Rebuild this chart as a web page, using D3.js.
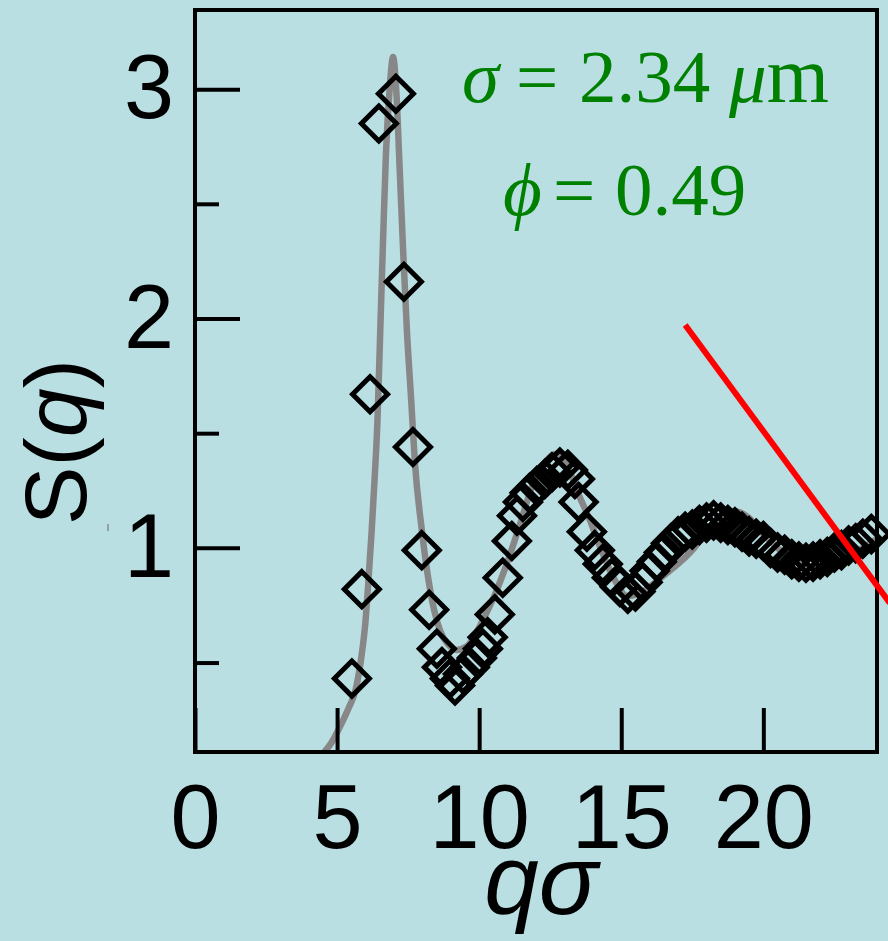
<!DOCTYPE html>
<html>
<head>
<meta charset="utf-8">
<script src="https://cdn.jsdelivr.net/npm/d3@7"></script>
<style>
  html, body { margin: 0; padding: 0; background: #badfe3; }
  svg { display: block; }
</style>
</head>
<body>
<svg id="chart" width="888" height="941"></svg>
<script>
// measured points (open diamonds)
const pointQ = [5.52, 5.87, 6.16, 6.47, 7.07, 7.35, 7.67, 7.98, 8.24, 8.51,
  8.69, 8.97, 9.15, 9.43, 9.67, 9.92, 10.13, 10.30, 10.55, 10.83,
  11.15, 11.33, 11.54, 11.78, 12.03, 12.31, 12.56, 12.84, 13.12, 13.37,
  13.50, 13.79, 14.07, 14.35, 14.67, 14.95, 15.23, 15.50, 15.75, 16.00,
  16.25, 16.50, 16.75, 17.00, 17.25, 17.50, 17.75, 18.00, 18.25, 18.50,
  18.75, 19.00, 19.25, 19.50, 19.75, 20.00, 20.25, 20.50, 20.75, 21.00,
  21.25, 21.50, 21.75, 22.00, 22.25, 22.50, 22.75, 23.00, 23.25, 23.50, 23.80];
const pointS = [0.43, 0.82, 1.67, 2.85, 2.98, 2.16, 1.44, 0.99, 0.73, 0.56,
  0.48, 0.43, 0.40, 0.45, 0.48, 0.52, 0.56, 0.61, 0.71, 0.87,
  1.03, 1.14, 1.20, 1.24, 1.27, 1.30, 1.33, 1.35, 1.34, 1.30,
  1.20, 1.07, 0.99, 0.93, 0.87, 0.83, 0.80, 0.81, 0.85, 0.90,
  0.94, 0.98, 1.02, 1.05, 1.07, 1.08, 1.10, 1.11, 1.12, 1.11,
  1.10, 1.09, 1.07, 1.05, 1.04, 1.03, 1.00, 0.98, 0.97, 0.95,
  0.94, 0.935, 0.94, 0.95, 0.96, 0.98, 0.99, 1.01, 1.02, 1.04, 1.06];

// theory curve (grey)
const curveQ = [4.40, 4.8, 5.1, 5.4, 5.65, 5.85, 6.0, 6.1, 6.22, 6.32, 6.42, 6.52,
  6.62, 6.72, 6.85, 6.97, 7.08, 7.21, 7.33, 7.46, 7.6, 7.74, 7.98, 8.27, 8.62,
  8.9, 9.2, 9.56, 9.9, 10.27, 10.6, 10.97, 11.43, 11.9, 12.3, 12.73, 13.1, 13.44,
  13.9, 14.3, 14.77, 15.2, 15.6, 16.0, 16.5, 17.0, 17.5, 18.0, 18.5, 19.0, 19.5,
  20.0, 20.5, 21.0, 21.5, 22.0, 22.5, 23.0, 23.5, 24.0];
const curveS = [0.09, 0.15, 0.22, 0.30, 0.38, 0.52, 0.68, 0.85, 1.08, 1.30, 1.55, 1.95,
  2.35, 2.72, 3.00, 3.14, 3.00, 2.63, 2.28, 1.94, 1.66, 1.37, 1.08, 0.82, 0.64,
  0.58, 0.555, 0.57, 0.63, 0.72, 0.81, 0.93, 1.10, 1.28, 1.37, 1.41, 1.36, 1.25,
  1.12, 0.99, 0.86, 0.79, 0.80, 0.83, 0.88, 0.93, 0.99, 1.07, 1.13, 1.16, 1.13,
  1.06, 1.00, 0.95, 0.92, 0.91, 0.93, 0.96, 1.00, 1.04];

const xTicks = [0, 5, 10, 15, 20];
const yTicks = [1, 2, 3];
const yMinorTicks = [0.5, 1.5, 2.5];

// red guide line drawn over the plot
const guideQ = [17.25, 24.45];
const guideS = [1.972, 0.76];

const svg = d3.select("#chart");
const box = {left: 195, right: 877, top: 10, bottom: 752};

const x = d3.scaleLinear().domain([0, 24]).range([box.left, box.right]);
const y = d3.scaleLinear().domain([0.11, 3.345]).range([box.bottom, box.top]);

svg.append("defs").append("clipPath").attr("id", "plotclip")
  .append("rect")
  .attr("x", box.left).attr("y", box.top)
  .attr("width", box.right - box.left).attr("height", box.bottom - box.top);

// theory curve
const line = d3.line().x((d, i) => x(curveQ[i])).y((d, i) => y(curveS[i])).curve(d3.curveMonotoneX);
svg.append("path")
  .attr("clip-path", "url(#plotclip)")
  .attr("d", line(curveQ))
  .attr("fill", "none")
  .attr("stroke", "#878787")
  .attr("stroke-width", 6.5);

// diamonds
const r = 17.5;
svg.append("g").selectAll("path")
  .data(pointQ)
  .join("path")
  .attr("transform", (d, i) => `translate(${x(d)},${y(pointS[i])})`)
  .attr("d", `M0,${-r}L${r},0L0,${r}L${-r},0Z`)
  .attr("fill", "none")
  .attr("stroke", "#000")
  .attr("stroke-width", 5)
  .attr("stroke-linejoin", "miter");

// axes, ticks point inward
const fontAxis = "'Liberation Sans', Arial, Helvetica, sans-serif";

svg.append("g")
  .attr("class", "xaxis")
  .attr("transform", `translate(0,${box.bottom})`)
  .call(d3.axisBottom(x).tickValues(xTicks).tickFormat(d3.format("d"))
    .tickSize(-44).tickPadding(32));

svg.append("g")
  .attr("class", "yaxis")
  .attr("transform", `translate(${box.left},0)`)
  .call(d3.axisLeft(y).tickValues(yTicks).tickFormat(d3.format("d"))
    .tickSize(-45).tickPadding(21));

svg.append("g")
  .attr("transform", `translate(${box.left},0)`)
  .call(d3.axisLeft(y).tickValues(yMinorTicks).tickFormat("").tickSize(-24));

svg.selectAll(".domain").remove();
svg.selectAll(".tick line").attr("stroke", "#000").attr("stroke-width", 4);
svg.selectAll(".tick text")
  .attr("fill", "#000")
  .style("font-family", fontAxis)
  .style("font-size", "90px");

// frame
svg.append("rect")
  .attr("x", box.left).attr("y", box.top)
  .attr("width", box.right - box.left).attr("height", box.bottom - box.top)
  .attr("fill", "none")
  .attr("stroke", "#000")
  .attr("stroke-width", 4);

// red guide line
svg.append("line")
  .attr("x1", x(guideQ[0])).attr("y1", y(guideS[0]))
  .attr("x2", x(guideQ[1])).attr("y2", y(guideS[1]))
  .attr("stroke", "#ff0000")
  .attr("stroke-width", 6);

// axis titles
svg.append("text")
  .attr("x", 541).attr("y", 914)
  .attr("text-anchor", "middle")
  .style("font-family", fontAxis)
  .style("font-style", "italic")
  .style("font-size", "98px")
  .text("qσ");

const ylab = svg.append("text")
  .attr("transform", "translate(86,442) rotate(-90)")
  .attr("text-anchor", "middle")
  .style("font-family", fontAxis)
  .style("font-size", "88px");
ylab.append("tspan").text("S(");
ylab.append("tspan").style("font-style", "italic").text("q");
ylab.append("tspan").text(")");

// small stray mark left of the "1"
svg.append("line")
  .attr("x1", 108).attr("y1", 524).attr("x2", 108).attr("y2", 531)
  .attr("stroke", "#666").attr("stroke-width", 1);

// green annotation
const fontSerif = "'Liberation Serif', 'Times New Roman', Times, serif";
const green = "#008000";

const t1 = svg.append("text")
  .attr("y", 102)
  .attr("fill", green)
  .style("font-family", fontSerif)
  .style("font-size", "75px");
t1.append("tspan").attr("x", 462).style("font-style", "italic").text("σ");
t1.append("tspan").attr("x", 516).text("=");
t1.append("tspan").attr("x", 579).text("2.34");
t1.append("tspan").attr("x", 729).style("font-style", "italic").text("μ");
t1.append("tspan").style("font-size", "80px").text("m");

const t2 = svg.append("text")
  .attr("y", 215)
  .attr("fill", green)
  .style("font-family", fontSerif)
  .style("font-size", "75px");
t2.append("tspan").attr("x", 503).style("font-style", "italic").text("ϕ");
t2.append("tspan").attr("x", 553).text("=");
t2.append("tspan").attr("x", 615).text("0.49");
</script>
</body>
</html>
